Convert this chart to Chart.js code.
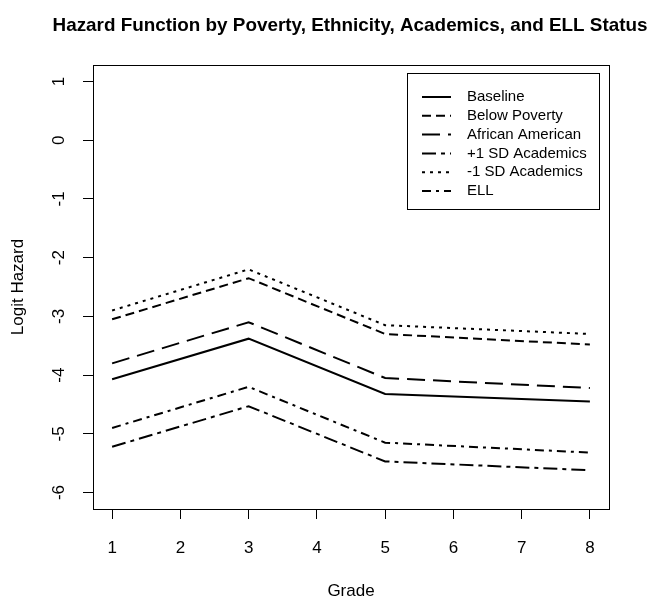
<!DOCTYPE html>
<html>
<head>
<meta charset="utf-8">
<script src="https://cdn.jsdelivr.net/npm/chart.js@4.4.1/dist/chart.umd.min.js"></script>
<style>
  body { margin: 0; background: #fff; }
  #wrap { width: 651px; height: 602px; }
</style>
</head>
<body>
<div id="wrap"><canvas id="hazardChart" width="651" height="602"></canvas></div>
<script>
// data
var grades = [1, 3, 5, 8];
var gradeTicks = [1, 2, 3, 4, 5, 6, 7, 8];
var hazardTicks = [-6, -5, -4, -3, -2, -1, 0, 1];

var seriesNames = ['Baseline', 'Below Poverty', 'African American', '+1 SD Academics', '-1 SD Academics', 'ELL'];
var baseline      = [-4.07, -3.38, -4.32, -4.45];
var belowPoverty  = [-3.05, -2.35, -3.30, -3.48];
var africanAm     = [-3.80, -3.10, -4.05, -4.22];
var plusSdAcad    = [-5.22, -4.53, -5.47, -5.62];
var minusSdAcad   = [-2.90, -2.20, -3.15, -3.30];
var ell           = [-4.90, -4.20, -5.15, -5.32];

var dashes = [[], [9, 5], [18, 8], [14, 5, 4, 5], [3, 5], [9, 5, 3, 5]];
var FONT = '"Liberation Sans", Arial, sans-serif';

function points(vals) {
  return vals.map(function(v, i) { return { x: grades[i], y: v }; });
}

var allSeries = [baseline, belowPoverty, africanAm, plusSdAcad, minusSdAcad, ell];
var datasets = allSeries.map(function(vals, i) {
  return {
    label: seriesNames[i],
    data: points(vals),
    borderColor: '#000',
    borderWidth: 2,
    borderDash: dashes[i],
    pointRadius: 0,
    fill: false,
    tension: 0
  };
});

var rDecor = {
  id: 'rDecor',
  afterDraw: function(chart) {
    var ctx = chart.ctx;
    var area = chart.chartArea;
    var ys = chart.scales.y;
    ctx.save();

    // plot box
    ctx.strokeStyle = '#000';
    ctx.lineWidth = 1;
    ctx.strokeRect(area.left + 0.5, area.top + 0.5, area.right - area.left, area.bottom - area.top);

    // title (fitted to the width it has in the figure)
    var title = 'Hazard Function by Poverty, Ethnicity, Academics, and ELL Status';
    ctx.fillStyle = '#000';
    ctx.font = 'bold 19px ' + FONT;
    ctx.textAlign = 'center';
    ctx.textBaseline = 'alphabetic';
    var sx = 595 / ctx.measureText(title).width;
    ctx.save();
    ctx.translate(350, 31);
    ctx.scale(sx, 1);
    ctx.fillText(title, 0, 0);
    ctx.restore();

    // y tick labels, rotated like R
    ctx.textBaseline = 'middle';
    ctx.font = '17px ' + FONT;
    ys.ticks.forEach(function(t) {
      var py = ys.getPixelForValue(t.value);
      ctx.save();
      ctx.translate(59, py);
      ctx.rotate(-Math.PI / 2);
      ctx.fillText(String(t.value), 0, 0);
      ctx.restore();
    });

    // y title
    ctx.save();
    ctx.translate(18, (area.top + area.bottom) / 2);
    ctx.rotate(-Math.PI / 2);
    ctx.fillText('Logit Hazard', 0, 0);
    ctx.restore();

    // legend
    var lx = 407, ly = 73, lw = 192, lh = 136;
    ctx.strokeRect(lx + 0.5, ly + 0.5, lw, lh);
    ctx.font = '15px ' + FONT;
    ctx.textAlign = 'left';
    chart.data.datasets.forEach(function(ds, i) {
      var ry = 97 + i * 18.8;
      ctx.beginPath();
      ctx.lineWidth = 2;
      ctx.setLineDash(ds.borderDash);
      ctx.moveTo(422, ry);
      ctx.lineTo(451, ry);
      ctx.stroke();
      ctx.setLineDash([]);
      ctx.fillText(ds.label, 467, ry);
    });
    ctx.restore();
  }
};

var chart = new Chart(document.getElementById('hazardChart').getContext('2d'), {
  type: 'line',
  data: { datasets: datasets },
  options: {
    responsive: false,
    animation: false,
    layout: { padding: { top: 65, right: 42, left: 0, bottom: 0 } },
    plugins: {
      legend: { display: false },
      tooltip: { enabled: false }
    },
    scales: {
      x: {
        type: 'linear',
        min: 0.72,
        max: 8.28,
        afterBuildTicks: function(scale) {
          scale.ticks = gradeTicks.map(function(v) { return { value: v }; });
        },
        afterFit: function(scale) { scale.height = 93; },
        ticks: {
          color: '#000',
          font: { family: FONT, size: 17 },
          padding: 19,
          maxRotation: 0
        },
        grid: {
          drawOnChartArea: false,
          color: '#000',
          tickLength: 10,
          tickColor: '#000'
        },
        border: { display: false },
        title: {
          display: true,
          text: 'Grade',
          color: '#000',
          font: { family: FONT, size: 17 },
          padding: { top: 4, bottom: 0 }
        }
      },
      y: {
        type: 'linear',
        min: -6.28,
        max: 1.28,
        afterBuildTicks: function(scale) {
          scale.ticks = hazardTicks.map(function(v) { return { value: v }; });
        },
        afterFit: function(scale) { scale.width = 93; },
        ticks: { display: false },
        grid: {
          drawOnChartArea: false,
          color: '#000',
          tickLength: 10,
          tickColor: '#000'
        },
        border: { display: false }
      }
    }
  },
  plugins: [rDecor]
});
</script>
</body>
</html>
